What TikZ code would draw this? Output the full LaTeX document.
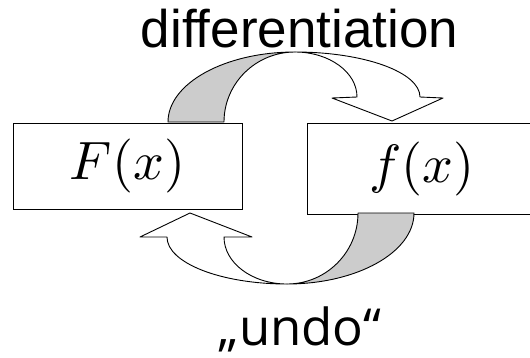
\documentclass[tikz,border=0pt]{standalone}
\usepackage{amsmath}
\usepackage{fontspec}
\usepackage{xcolor}
\usepackage{tikz}
\newfontfamily\labelfont{Liberation Sans}
\newfontfamily\undofont{Open Sans}

\begin{document}
\begin{tikzpicture}[
  x=1pt, y=1pt,
  box/.style={draw, fill=white, line width=0.9pt, inner sep=0pt,
              minimum width=229pt, minimum height=86pt},
  band/.style={draw, line width=0.9pt, line join=round},
  back/.style={band, fill=black!20},
  front/.style={band, fill=white}
]
  \useasboundingbox (0,0) rectangle (530,-357);
  \clip (0,0) rectangle (530,-357);

  \node[box] (Fbox) at (127.5,-166) {\scalebox{5.4}{$F(x)$}};
  \node[box, minimum width=230pt, minimum height=91pt] (fbox) at (422,-168.5)
    {\scalebox{5.4}{$f(x)$}};

  \node[anchor=base, inner sep=0pt] (diff) at (299.5,-47)
    {\labelfont\fontsize{53}{60}\selectfont differentiation};
  \node[anchor=base, inner sep=0pt] (undo) at (300,-345)
    {\undofont\fontsize{51}{56}\selectfont „undo“};

  % upper arrow: F -> f
  \path[back] (168,-122) arc[start angle=180, end angle=90, x radius=127, y radius=70]
    arc[start angle=90, end angle=180, x radius=71, y radius=70] -- cycle;
  \path[front] (295,-52) arc[start angle=90, end angle=0, x radius=125, y radius=45]
    -- (443,-98) -- (392,-121) -- (332,-98) -- (357,-97)
    arc[start angle=0, end angle=90, x radius=62, y radius=45] -- cycle;

  % lower arrow: f -> F
  \path[back] (414,-213) arc[start angle=0, end angle=-90, x radius=127, y radius=71]
    arc[start angle=-90, end angle=0, x radius=71, y radius=71] -- cycle;
  \path[front] (287,-284) arc[start angle=-90, end angle=-180, x radius=120, y radius=47]
    -- (140,-237) -- (190,-213) -- (252,-237) -- (224,-237)
    arc[start angle=180, end angle=270, x radius=63, y radius=47] -- cycle;
\end{tikzpicture}
\end{document}
